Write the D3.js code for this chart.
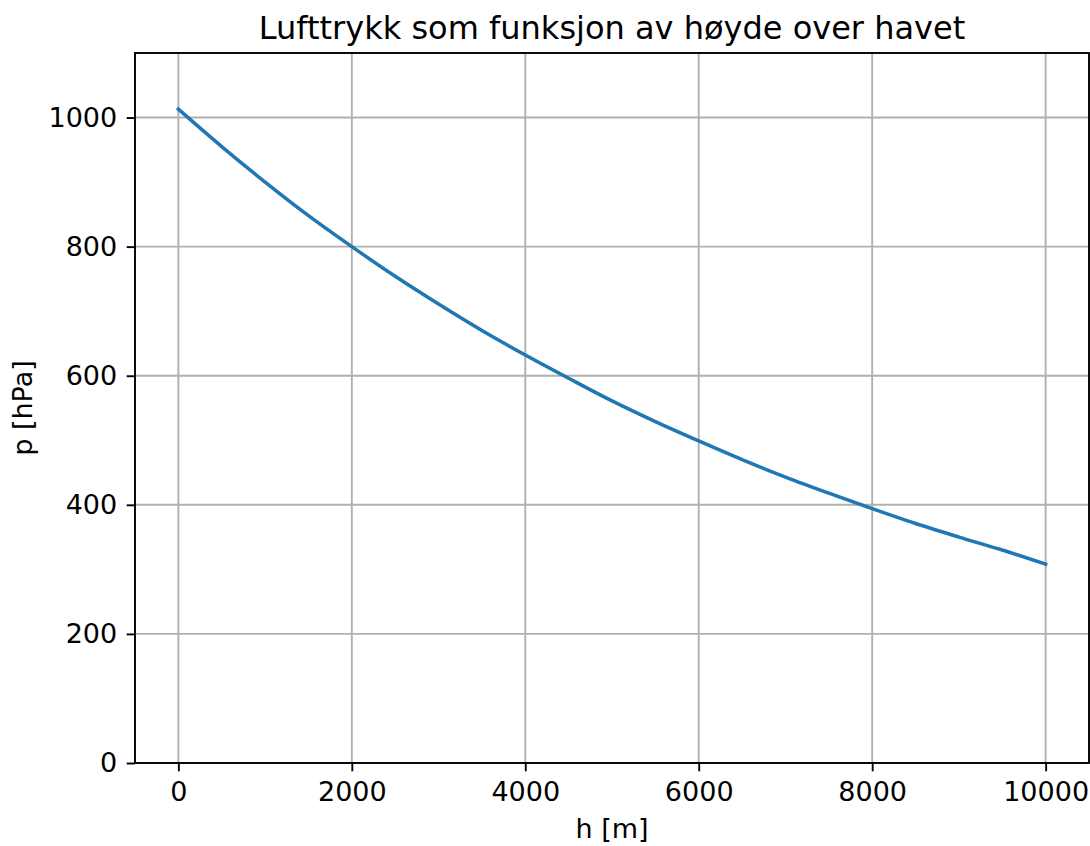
<!DOCTYPE html>
<meta charset="utf-8">
<style>
    body { margin: 0; background: #fff; }
    svg text { font-family: "DejaVu Sans", sans-serif; fill: #000; }
    .grid line { stroke: #b0b0b0; stroke-width: 1.9px; }
    .axis path, .axis line { stroke: #000; stroke-width: 1.9px; }
</style>
<svg width="1090" height="846"></svg>
<script src="https://d3js.org/d3.v7.min.js"></script>
<script>

    // height above sea level [m]
    var heights = [0, 500, 1000, 1500, 2000, 2500, 3000, 3500, 4000, 4500, 5000,
                   5500, 6000, 6500, 7000, 7500, 8000, 8500, 9000, 9500, 10000];
    // pressure [hPa]
    var pressures = [1013, 955, 900, 848, 800, 754, 711, 670, 632, 596, 561,
                     529, 499, 470, 443, 418, 394, 371, 350, 330, 308];

    var xTicks = [0, 2000, 4000, 6000, 8000, 10000];
    var yTicks = [0, 200, 400, 600, 800, 1000];

    var svg = d3.select("svg"),
        mLeft = 135, mRight = 1089, mTop = 53, mBottom = 763;

    var x = d3.scaleLinear().domain([-500, 10500]).range([mLeft, mRight]);
    var y = d3.scaleLinear().domain([0, 1100]).range([mBottom, mTop]);

    // grid
    var grid = svg.append("g").attr("class", "grid");
    grid.selectAll(".gx").data(xTicks).enter().append("line")
        .attr("x1", function(d) { return x(d); })
        .attr("x2", function(d) { return x(d); })
        .attr("y1", mTop).attr("y2", mBottom);
    grid.selectAll(".gy").data(yTicks).enter().append("line")
        .attr("y1", function(d) { return y(d); })
        .attr("y2", function(d) { return y(d); })
        .attr("x1", mLeft).attr("x2", mRight);

    // curve
    var data = heights.map(function(h, i) { return [h, pressures[i]]; });
    svg.append("path")
        .datum(data)
        .attr("fill", "none")
        .attr("stroke", "#1f77b4")
        .attr("stroke-width", 3.5)
        .attr("stroke-linecap", "square")
        .attr("d", d3.line()
            .x(function(d) { return x(d[0]); })
            .y(function(d) { return y(d[1]); })
            .curve(d3.curveMonotoneX));

    // axes
    svg.append("g").attr("class", "axis")
        .attr("transform", "translate(0," + mBottom + ")")
        .call(d3.axisBottom(x).tickValues(xTicks).tickSize(8.3).tickPadding(11).tickSizeOuter(0).tickFormat(d3.format("d")));
    svg.append("g").attr("class", "axis")
        .attr("transform", "translate(" + mLeft + ",0)")
        .call(d3.axisLeft(y).tickValues(yTicks).tickSize(8.3).tickPadding(9.5).tickSizeOuter(0).tickFormat(d3.format("d")));
    svg.selectAll(".axis text").style("font-size", "27px").style("font-family", "DejaVu Sans");
    svg.selectAll(".axis .domain").remove();

    // frame
    svg.append("rect")
        .attr("x", mLeft).attr("y", mTop)
        .attr("width", mRight - mLeft).attr("height", mBottom - mTop)
        .attr("fill", "none").attr("stroke", "#000").attr("stroke-width", 1.9);

    // labels
    svg.append("text")
        .attr("x", (mLeft + mRight) / 2).attr("y", 39)
        .attr("text-anchor", "middle")
        .style("font-size", "32px")
        .text("Lufttrykk som funksjon av høyde over havet");

    svg.append("text")
        .attr("x", (mLeft + mRight) / 2).attr("y", 838)
        .attr("text-anchor", "middle")
        .style("font-size", "27px")
        .text("h [m]");

    svg.append("text")
        .attr("transform", "translate(32," + ((mTop + mBottom) / 2) + ") rotate(-90)")
        .attr("text-anchor", "middle")
        .style("font-size", "27px")
        .text("p [hPa]");

</script>
